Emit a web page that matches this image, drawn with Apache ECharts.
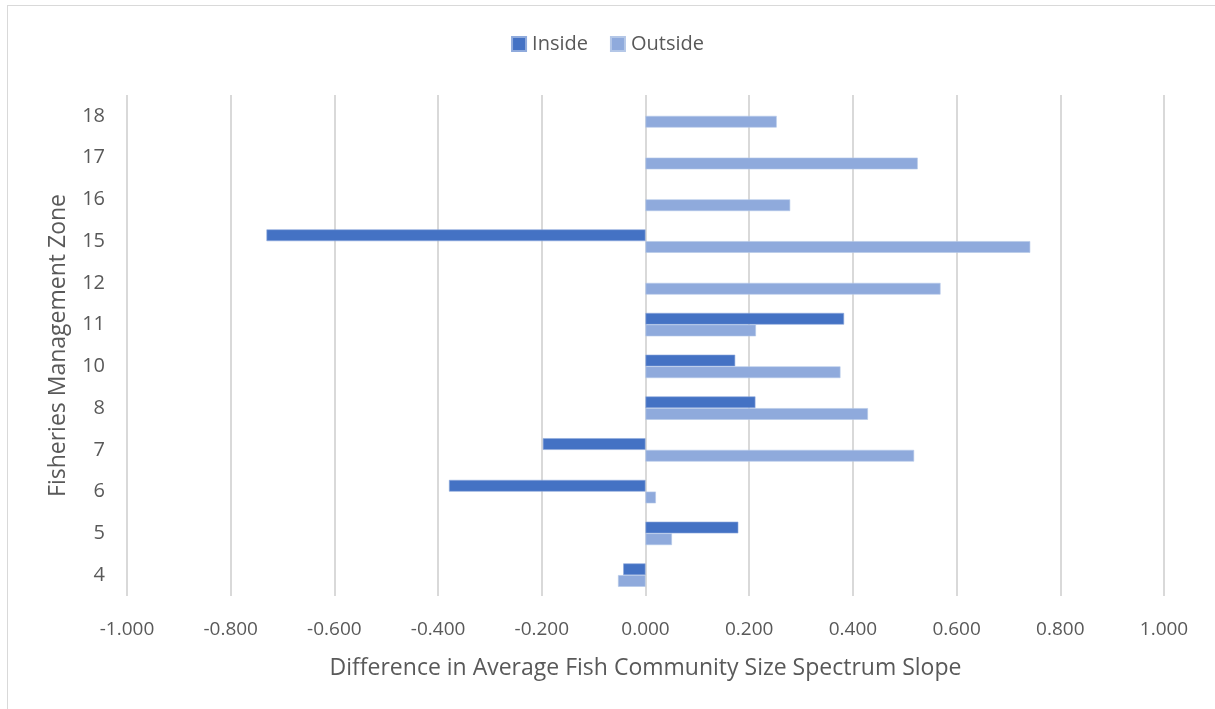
<!DOCTYPE html>
<html>
<head>
<meta charset="utf-8">
<title>Fish Community Size Spectrum Slope by Zone</title>
<script src="https://cdn.jsdelivr.net/npm/echarts@6/dist/echarts.min.js"></script>
<style>
  html, body { margin: 0; padding: 0; background: #ffffff; }
  #frame { position: absolute; left: 7px; top: 5px; width: 1215px; height: 720px;
           border: 1px solid #d9d9d9; box-sizing: border-box; }
  #chart { position: absolute; left: 0; top: 0; width: 1215px; height: 709px; }
</style>
</head>
<body>
<div id="frame"></div>
<div id="chart"></div>
<script>
// Management zones, listed bottom to top
const zones = ['4', '5', '6', '7', '8', '10', '11', '12', '15', '16', '17', '18'];
// Difference in average slope, inside the zone (null = no data)
const insideValues = [-0.043, 0.179, -0.379, -0.198, 0.212, 0.173, 0.383, null, -0.731, null, null, null];
// Difference in average slope, outside the zone
const outsideValues = [-0.053, 0.051, 0.020, 0.518, 0.429, 0.376, 0.213, 0.569, 0.742, 0.279, 0.525, 0.253];
const xTicks = { min: -1, max: 1, step: 0.2 };

const font = 'Open Sans, Liberation Sans, sans-serif';
const textColor = '#595959';

const chart = echarts.init(document.getElementById('chart'), null, { renderer: 'canvas' });
chart.setOption({
  animation: false,
  backgroundColor: 'transparent',
  legend: {
    data: ['Inside', 'Outside'],
    top: 29,
    left: 'center',
    itemWidth: 14,
    itemHeight: 14,
    itemGap: 22,
    icon: 'rect',
    textStyle: { color: textColor, fontSize: 20, fontFamily: font, padding: [0, 0, 0, 1] }
  },
  grid: { left: 127, right: 51, top: 95, bottom: 113, containLabel: false },
  xAxis: {
    type: 'value',
    min: xTicks.min,
    max: xTicks.max,
    interval: xTicks.step,
    name: 'Difference in Average Fish Community Size Spectrum Slope',
    nameLocation: 'middle',
    nameGap: 61,
    nameTextStyle: { color: textColor, fontSize: 23, fontFamily: font },
    axisLine: { show: false },
    axisTick: { show: false },
    axisLabel: {
      color: textColor, fontSize: 19, fontFamily: font, margin: 24,
      formatter: v => v.toFixed(3)
    },
    splitLine: { show: true, lineStyle: { color: '#d9d9d9', width: 2 } }
  },
  yAxis: {
    type: 'category',
    data: zones,
    name: 'Fisheries Management Zone',
    nameLocation: 'middle',
    nameRotate: 90,
    nameGap: 57,
    nameTextStyle: { color: textColor, fontSize: 23, fontFamily: font },
    axisLine: { show: false },
    axisTick: { show: false },
    axisLabel: { color: textColor, fontSize: 20, fontFamily: font, margin: 22 },
    splitLine: { show: false }
  },
  series: [
    {
      name: 'Inside',
      type: 'bar',
      data: insideValues,
      barWidth: 11.7,
      barGap: '0%',
      itemStyle: { color: '#4472c4', borderColor: '#8faadc', borderWidth: 0.6 }
    },
    {
      name: 'Outside',
      type: 'bar',
      data: outsideValues,
      barWidth: 11.7,
      barGap: '0%',
      itemStyle: { color: '#8faadc', borderColor: '#b4c7e7', borderWidth: 0.6 }
    }
  ]
});
</script>
</body>
</html>
